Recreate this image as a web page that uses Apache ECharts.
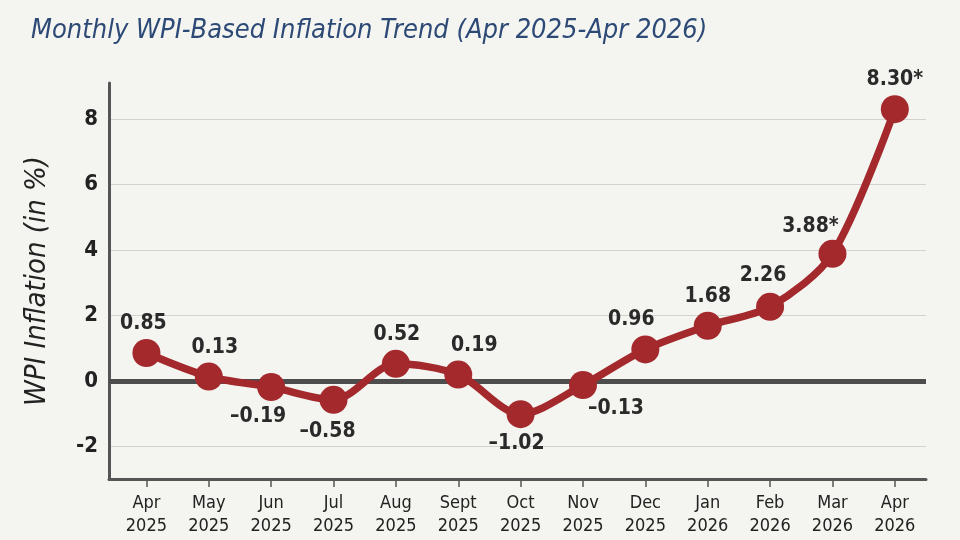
<!DOCTYPE html>
<html>
<head>
<meta charset="utf-8">
<script src="https://cdn.jsdelivr.net/npm/echarts@6/dist/echarts.min.js"></script>
<style>
html,body{margin:0;padding:0;background:#f4f4f0;}
#chart{width:960px;height:540px;}
</style>
</head>
<body>
<div id="chart"></div>
<script>
const categories = ['Apr 2025','May 2025','Jun 2025','Jul 2025','Aug 2025','Sept 2025','Oct 2025','Nov 2025','Dec 2025','Jan 2026','Feb 2026','Mar 2026','Apr 2026'];
const values = [0.85, 0.13, -0.19, -0.58, 0.52, 0.19, -1.02, -0.13, 0.96, 1.68, 2.26, 3.88, 8.30];
const provisional = [false,false,false,false,false,false,false,false,false,false,false,true,true];
const yTicks = [-2, 0, 2, 4, 6, 8];

// label placement (style only)
const labelPos = ['top','top','bottom','bottom','top','top','bottom','bottom','top','top','top','top','top'];
const labelDx = [-3, 6, -13, -6, 1, 16, -4, 33, -14, 0, -7, -22, 0];
const labelDy = [0, 0, 0, 2, 0, 0, 0, -6, 0, 0, -2, 2, 0];

const FONT = '"Liberation Sans Narrow","DejaVu Sans Condensed","Liberation Sans",sans-serif';
const RED = '#a3292d';
const xIdx = categories.map((c, i) => i);

const chart = echarts.init(document.getElementById('chart'), null, {renderer: 'canvas'});
chart.setOption({
  backgroundColor: '#f4f4f0',
  animation: false,
  title: {
    text: 'Monthly WPI-Based Inflation Trend (Apr 2025-Apr 2026)',
    left: 31, top: 17, padding: 0,
    textStyle: {fontFamily: FONT, fontStyle: 'italic', fontWeight: 'normal', fontSize: 27, color: '#2d4a76'}
  },
  grid: {left: 109, right: 34, top: 83, bottom: 61, containLabel: false},
  xAxis: {
    type: 'value', min: -0.6, max: 12.5,
    axisLine: {onZero: false, lineStyle: {color: '#555', width: 3}},
    axisTick: {show: true, customValues: xIdx, length: 8, lineStyle: {color: '#555', width: 1.5}},
    axisLabel: {
      customValues: xIdx, margin: 13,
      formatter: v => categories[v].replace(' ', '\n'),
      fontFamily: FONT, fontSize: 18, color: '#222', lineHeight: 23
    },
    splitLine: {show: false}
  },
  yAxis: {
    type: 'value', min: -3, max: 9.1,
    name: 'WPI Inflation (in %)', nameLocation: 'middle', nameGap: 57,
    nameTextStyle: {fontFamily: FONT, fontStyle: 'italic', fontSize: 29, color: '#222'},
    axisLine: {show: true, onZero: false, lineStyle: {color: '#555', width: 3}},
    axisTick: {show: false, customValues: yTicks},
    axisLabel: {customValues: yTicks, margin: 11, fontFamily: FONT, fontWeight: 'bold', fontSize: 22, color: '#222'},
    splitLine: {show: true, lineStyle: {color: '#d2d2ce', width: 1}}
  },
  series: [
    {
      type: 'line', data: [], z: 1, silent: true,
      markLine: {
        silent: true, symbol: 'none', label: {show: false},
        lineStyle: {color: '#4d4d4d', width: 5, type: 'solid'},
        data: [{yAxis: 0}]
      }
    },
    {
      type: 'line', z: 5, smooth: 0.3,
      symbol: 'circle', symbolSize: 28,
      lineStyle: {color: RED, width: 7.5},
      itemStyle: {color: RED},
      data: values.map((v, i) => ({
        value: [i, v],
        label: {position: labelPos[i], offset: [labelDx[i], labelDy[i]]}
      })),
      label: {
        show: true, distance: 5,
        fontFamily: FONT, fontWeight: 'bold', fontSize: 21, color: '#2a2a2a',
        formatter: p => {
          const i = p.dataIndex;
          const v = values[i];
          return (v < 0 ? '\u2013' + Math.abs(v).toFixed(2) : v.toFixed(2)) + (provisional[i] ? '*' : '');
        }
      }
    }
  ]
});
</script>
</body>
</html>
